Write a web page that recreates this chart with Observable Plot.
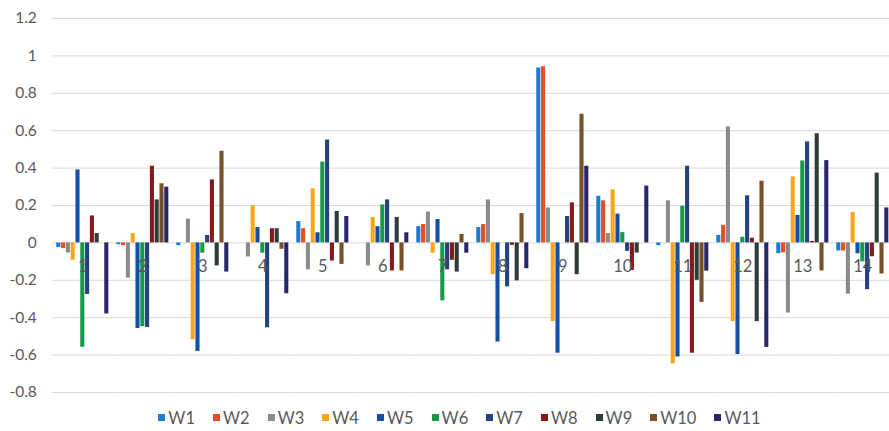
<!DOCTYPE html>
<html><head><meta charset="utf-8">
<script src="https://cdn.jsdelivr.net/npm/d3@7"></script>
<script src="https://cdn.jsdelivr.net/npm/@observablehq/plot@0.6"></script>
<style>
html,body{margin:0;padding:0;background:#fff;overflow:hidden;}
#legend{display:flex;justify-content:center;align-items:center;height:27px;font-family:Lato,sans-serif;font-size:16.5px;color:#595959;padding-left:30px;}
.item{display:flex;align-items:center;margin:0 9px;}
.sw{width:7px;height:7px;margin-right:3px;}
</style></head><body><div id="chart"></div><div id="legend"></div>
<script>
const groups = ["1","2","3","4","5","6","7","8","9","10","11","12","13","14"];
const series = ["W1","W2","W3","W4","W5","W6","W7","W8","W9","W10","W11"];
const colors = ["#1a7dcc","#eb4b25","#8a8a8a","#fba51a","#124fa6","#17994a","#22437f","#851a1d","#2f3c37","#76502a","#272767"];
const yTicks = [-0.8,-0.6,-0.4,-0.2,0,0.2,0.4,0.6,0.8,1,1.2];

const W1  = [-0.025,-0.01,-0.015,0,0.114,0,0.087,0.082,0.935,0.249,-0.015,0.04,-0.058,-0.043];
const W2  = [-0.03,-0.015,0,0,0.076,0,0.098,0.098,0.942,0.225,0,0.094,-0.053,-0.043];
const W3  = [-0.054,-0.188,0.127,-0.075,-0.144,-0.123,0.165,0.23,0.187,0.05,0.225,0.62,-0.375,-0.274];
const W4  = [-0.093,0.05,-0.518,0.2,0.289,0.136,-0.055,-0.17,-0.421,0.284,-0.647,-0.421,0.353,0.163];
const W5  = [0.39,-0.458,-0.58,0.082,0.054,0.087,0.125,-0.53,-0.59,0.154,-0.61,-0.597,0.147,-0.058];
const W6  = [-0.558,-0.448,-0.055,-0.055,0.432,0.203,-0.31,0,0,0.055,0.196,0.03,0.438,-0.101];
const W7  = [-0.276,-0.452,0.04,-0.454,0.55,0.23,-0.144,-0.235,0.141,-0.045,0.41,0.252,0.54,-0.25];
const W8  = [0.144,0.41,0.337,0.076,-0.097,-0.15,-0.093,-0.013,0.214,-0.147,-0.59,0.025,0.008,-0.074];
const W9  = [0.05,0.23,-0.123,0.076,0.168,0.136,-0.156,-0.203,-0.17,-0.054,-0.2,-0.421,0.584,0.373];
const W10 = [0,0.316,0.49,-0.034,-0.115,-0.15,0.045,0.157,0.688,0,-0.318,0.33,-0.15,-0.166];
const W11 = [-0.38,0.298,-0.156,-0.272,0.141,0.054,-0.055,-0.138,0.41,0.304,-0.151,-0.559,0.44,0.187];

const values = [W1,W2,W3,W4,W5,W6,W7,W8,W9,W10,W11];
const table = [];
series.forEach((s,i)=>groups.forEach((g,j)=>table.push({group:g, series:s, value:values[i][j]})));

const chart = Plot.plot({
  width: 889, height: 404,
  marginTop: 18, marginBottom: 12, marginLeft: 52, marginRight: 0,
  style: {fontFamily: "Lato, sans-serif", background: "#fff", overflow: "hidden"},
  fx: {domain: groups, padding: 0, range: [52.3, 892.3], axis: null, round: false},
  x: {domain: series, paddingInner: 0.15, paddingOuter: 0.825, axis: null, round: false},
  y: {domain: [-0.8, 1.2], range: [392, 18], axis: null},
  color: {domain: series, range: colors},
  marks: [
    Plot.ruleY(yTicks, {stroke: "#d9d9d9", strokeWidth: 1}),
    Plot.barY(table, {fx: "group", x: "series", y: "value", fill: "series"}),
    Plot.text(groups, {fx: d => d, y: () => 0, text: d => d, dy: 24, fontSize: 16.5, fill: "#595959"}),
    Plot.axisY(yTicks, {anchor: "left", tickSize: 0, tickPadding: 16, tickFormat: d => String(d), fontSize: 15.5, fill: "#595959", label: null})
  ]
});
document.getElementById("chart").appendChild(chart);

const legend = document.getElementById("legend");
series.forEach((s,i) => {
  const it = document.createElement("div"); it.className = "item";
  const sw = document.createElement("div"); sw.className = "sw"; sw.style.background = chart.scale("color").apply(s);
  const tx = document.createElement("span"); tx.textContent = s;
  it.appendChild(sw); it.appendChild(tx); legend.appendChild(it);
});
</script></body></html>
